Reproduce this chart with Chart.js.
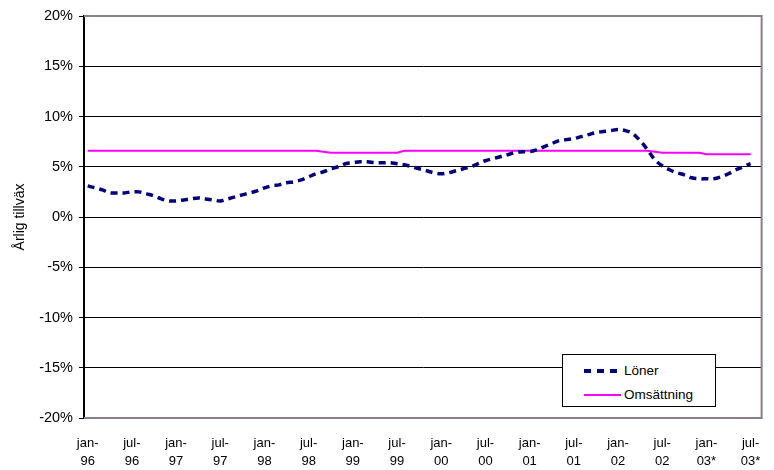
<!DOCTYPE html>
<html>
<head>
<meta charset="utf-8">
<script src="https://cdn.jsdelivr.net/npm/chart.js"></script>
<style>
  body { margin: 0; background: #fff; }
  #wrap { position: relative; width: 774px; height: 470px; }
  #legend {
    position: absolute; left: 562px; top: 354px; width: 152px; height: 51px;
    border: 1px solid #000; background: #fff;
    font: 13.5px Arial, "Liberation Sans", sans-serif; color: #000;
  }
  .row { position: absolute; left: 21px; height: 16px; line-height: 16px; }
  .swatch { display: inline-block; width: 37px; vertical-align: middle; margin-right: 3px; }
  .dash { height: 4px; background: repeating-linear-gradient(to right, #000080 0 7px, transparent 7px 13px); }
  .solid { height: 2px; background: #ff00ff; }
</style>
</head>
<body>
<div id="wrap">
  <canvas id="chart" width="774" height="470"></canvas>
  <div id="legend">
    <div class="row" style="top:8px"><span class="swatch dash"></span>Löner</div>
    <div class="row" style="top:32px"><span class="swatch solid"></span>Omsättning</div>
  </div>
</div>
<script>
// månader jan-96 .. aug-03 (sista kategorin tom)
const months = ["jan", "feb", "mar", "apr", "maj", "jun", "jul", "aug", "sep", "okt", "nov", "dec"];
const years = ["96", "97", "98", "99", "00", "01", "02", "03*"];

// årlig tillväxt, procent, månadsvis från jan-96
const loner = [
  3.1, 2.9, 2.7, 2.4, 2.4, 2.4, 2.5, 2.5, 2.3, 2.1, 1.8, 1.6,
  1.6, 1.7, 1.8, 1.9, 1.8, 1.7, 1.6, 1.8, 2.0, 2.2, 2.4, 2.6,
  2.9, 3.1, 3.2, 3.4, 3.5, 3.7, 4.0, 4.3, 4.5, 4.8, 5.0, 5.3,
  5.4, 5.5, 5.5, 5.4, 5.4, 5.4, 5.3, 5.2, 5.0, 4.8, 4.6, 4.4,
  4.3, 4.4, 4.6, 4.8, 5.0, 5.3, 5.6, 5.8, 6.0, 6.2, 6.4, 6.5,
  6.5, 6.7, 7.0, 7.3, 7.6, 7.7, 7.8, 8.0, 8.2, 8.4, 8.5, 8.6,
  8.7, 8.6, 8.3, 7.6, 6.7, 5.7, 5.1, 4.7, 4.4, 4.2, 3.9, 3.8,
  3.8, 3.8, 4.0, 4.3, 4.7, 5.0, 5.3
];
const omsattning = [
  6.6, 6.6, 6.6, 6.6, 6.6, 6.6, 6.6, 6.6, 6.6, 6.6, 6.6, 6.6,
  6.6, 6.6, 6.6, 6.6, 6.6, 6.6, 6.6, 6.6, 6.6, 6.6, 6.6, 6.6,
  6.6, 6.6, 6.6, 6.6, 6.6, 6.6, 6.6, 6.6, 6.5, 6.4, 6.4, 6.4,
  6.4, 6.4, 6.4, 6.4, 6.4, 6.4, 6.4, 6.6, 6.6, 6.6, 6.6, 6.6,
  6.6, 6.6, 6.6, 6.6, 6.6, 6.6, 6.6, 6.6, 6.6, 6.6, 6.6, 6.6,
  6.6, 6.6, 6.6, 6.6, 6.6, 6.6, 6.6, 6.6, 6.6, 6.6, 6.6, 6.6,
  6.6, 6.6, 6.6, 6.6, 6.6, 6.5, 6.4, 6.4, 6.4, 6.4, 6.4, 6.4,
  6.25, 6.25, 6.25, 6.25, 6.25, 6.25, 6.25
];

let labels = [];
years.forEach(y => months.forEach(m => labels.push([m + "-", y])));
labels = labels.slice(0, 92);

const fontFam = 'Arial, "Liberation Sans", sans-serif';
const frameColor = "#8c7c8c";

// grå ram runt diagramytan (topp, höger, botten)
const frame = {
  id: "frame",
  beforeDatasetsDraw(chart) {
    const a = chart.chartArea, c = chart.ctx;
    c.save();
    c.strokeStyle = frameColor;
    c.lineWidth = 2;
    c.beginPath();
    c.moveTo(a.left, a.top);
    c.lineTo(a.right, a.top);
    c.lineTo(a.right, a.bottom);
    c.lineTo(a.left, a.bottom);
    c.stroke();
    c.restore();
  }
};

const chart = new Chart(document.getElementById("chart"), {
  type: "line",
  data: {
    labels: labels,
    datasets: [
      {
        label: "Löner",
        data: loner,
        borderColor: "#000080",
        borderWidth: 3.5,
        borderDash: [7, 5],
        pointRadius: 0,
        tension: 0.35,
        fill: false
      },
      {
        label: "Omsättning",
        data: omsattning,
        borderColor: "#ff00ff",
        borderWidth: 2,
        pointRadius: 0,
        tension: 0,
        fill: false
      }
    ]
  },
  options: {
    responsive: false,
    animation: false,
    layout: { padding: { top: 16, right: 8, left: 0, bottom: 0 } },
    plugins: {
      legend: { display: false },
      tooltip: { enabled: false }
    },
    scales: {
      x: {
        offset: true,
        grid: { display: false, drawTicks: false },
        border: { display: false },
        ticks: {
          autoSkip: false,
          maxRotation: 0,
          padding: 16,
          color: "#000",
          font: { family: fontFam, size: 13, lineHeight: 1.4 },
          callback: (v, i) => i % 6 === 0 ? labels[i] : ""
        },
        afterFit: s => { s.height = 52; }
      },
      y: {
        min: -20,
        max: 20,
        ticks: {
          stepSize: 5,
          padding: 6,
          color: "#000",
          font: { family: fontFam, size: 14.5 },
          callback: v => v + "%"
        },
        grid: {
          color: ctx => (ctx.tick && Math.abs(ctx.tick.value) === 20) ? frameColor : "#000",
          lineWidth: 1,
          tickLength: 5,
          tickColor: "#000"
        },
        border: { color: "#000", width: 2 },
        title: {
          display: true,
          text: "Årlig tillväx",
          color: "#000",
          font: { family: fontFam, size: 14 },
          padding: { top: 12, bottom: 0 }
        },
        afterFit: s => { s.width = 84; }
      }
    }
  },
  plugins: [frame]
});
</script>
</body>
</html>
